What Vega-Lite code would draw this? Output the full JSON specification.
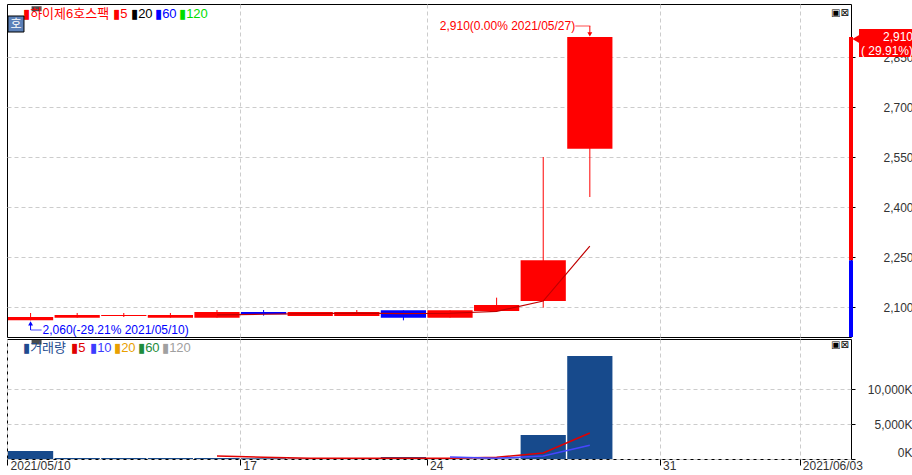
{
 "$schema": "https://vega.github.io/schema/vega-lite/v6.json",
 "background": "#ffffff",
 "padding": {"left": 5, "top": 3, "right": 0, "bottom": 0},
 "spacing": 2,
 "bounds": "flush",
 "config": {
  "font": "Liberation Sans, Noto Sans CJK KR, DejaVu Sans, sans-serif",
  "view": {"stroke": "#000000", "strokeWidth": 1},
  "axis": {"labelFont": "Liberation Sans", "labelFontSize": 12, "labelColor": "#333333", "gridColor": "#cccccc", "gridDash": [4, 3], "gridWidth": 1, "domain": false, "tickColor": "#000000"},
  "text": {"fontSize": 12}
 },
 "datasets": {
  "ohlc": [
   {"date": "2021/05/10", "open": 2060, "high": 2082, "low": 2060, "close": 2070, "vol": 1140},
   {"date": "2021/05/11", "open": 2068, "high": 2082, "low": 2068, "close": 2076, "vol": 150},
   {"date": "2021/05/12", "open": 2073, "high": 2082, "low": 2070, "close": 2076, "vol": 150},
   {"date": "2021/05/13", "open": 2068, "high": 2082, "low": 2068, "close": 2076, "vol": 150},
   {"date": "2021/05/14", "open": 2068, "high": 2091, "low": 2068, "close": 2085, "ma5": 2076.6, "vol": 130, "vma5": 420},
   {"date": "2021/05/17", "open": 2085, "high": 2091, "low": 2074, "close": 2078, "ma5": 2078.2, "vol": 100, "vma5": 240},
   {"date": "2021/05/18", "open": 2073, "high": 2085, "low": 2073, "close": 2085, "ma5": 2080.0, "vol": 60, "vma5": 110},
   {"date": "2021/05/20", "open": 2073, "high": 2091, "low": 2073, "close": 2085, "ma5": 2081.8, "vol": 60, "vma5": 100},
   {"date": "2021/05/21", "open": 2090, "high": 2090, "low": 2060, "close": 2068, "ma5": 2080.2, "vol": 300, "vma5": 120},
   {"date": "2021/05/24", "open": 2068, "high": 2090, "low": 2068, "close": 2090, "ma5": 2081.2, "vol": 60, "vma5": 100, "vma10": 285},
   {"date": "2021/05/25", "open": 2088, "high": 2128, "low": 2088, "close": 2106, "ma5": 2086.8, "vol": 70, "vma5": 250, "vma10": 110},
   {"date": "2021/05/26", "open": 2118, "high": 2550, "low": 2098, "close": 2240, "ma5": 2117.8, "vol": 3430, "vma5": 857, "vma10": 430},
   {"date": "2021/05/27", "open": 2575, "high": 2910, "low": 2430, "close": 2910, "ma5": 2282.8, "vol": 14710, "vma5": 3714, "vma10": 1950}
  ]
 },
 "vconcat": [
  {
   "width": 844,
   "height": 333,
   "layer": [
    {
     "data": {"name": "ohlc"},
     "mark": {"type": "rule", "strokeWidth": 1},
     "encoding": {
      "x": {"field": "date", "type": "ordinal", "bandPosition": 0.5,
            "scale": {"type": "band", "domain": ["2021/05/10","2021/05/11","2021/05/12","2021/05/13","2021/05/14","2021/05/17","2021/05/18","2021/05/20","2021/05/21","2021/05/24","2021/05/25","2021/05/26","2021/05/27","2021/05/28","2021/05/31","2021/06/01","2021/06/02","2021/06/03"], "paddingInner": 0.03, "paddingOuter": 0.07, "align": 0.15},
            "axis": {"labels": false, "ticks": false, "domain": false, "grid": true, "bandPosition": 0, "values": ["2021/05/17","2021/05/24","2021/05/31","2021/06/03"], "title": null}},
      "y": {"field": "low", "type": "quantitative", "scale": {"domain": [2010, 3009], "nice": false, "zero": false},
            "axis": {"orient": "right", "values": [2100, 2250, 2400, 2550, 2700, 2850], "labelExpr": "format(datum.value, ',')", "tickSize": 4, "labelAlign": "right", "labelBaseline": "middle", "labelPadding": 58, "grid": true, "title": null}},
      "y2": {"field": "high"},
      "color": {"condition": {"test": "datum.close >= datum.open", "value": "#ff0000"}, "value": "#0000ff"}
     }
    },
    {
     "data": {"name": "ohlc"},
     "mark": {"type": "bar"},
     "encoding": {
      "x": {"field": "date", "type": "ordinal",
            "axis": {"labels": false, "ticks": false, "domain": false, "grid": true, "bandPosition": 0, "values": ["2021/05/17","2021/05/24","2021/05/31","2021/06/03"], "title": null}},
      "y": {"field": "open", "type": "quantitative",
            "axis": {"orient": "right", "values": [2100, 2250, 2400, 2550, 2700, 2850], "labelExpr": "format(datum.value, ',')", "tickSize": 4, "labelAlign": "right", "labelBaseline": "middle", "labelPadding": 58, "grid": true, "title": null}},
      "y2": {"field": "close"},
      "color": {"condition": {"test": "datum.close >= datum.open", "value": "#ff0000"}, "value": "#0000ff"}
     }
    },
    {
     "data": {"name": "ohlc"},
     "transform": [{"filter": "isValid(datum.ma5)"}],
     "mark": {"type": "line", "color": "#c00000", "strokeWidth": 1.2},
     "encoding": {
      "x": {"field": "date", "type": "ordinal", "bandPosition": 0.5,
            "axis": {"labels": false, "ticks": false, "domain": false, "grid": true, "bandPosition": 0, "values": ["2021/05/17","2021/05/24","2021/05/31","2021/06/03"], "title": null}},
      "y": {"field": "ma5", "type": "quantitative",
            "axis": {"orient": "right", "values": [2100, 2250, 2400, 2550, 2700, 2850], "labelExpr": "format(datum.value, ',')", "tickSize": 4, "labelAlign": "right", "labelBaseline": "middle", "labelPadding": 58, "grid": true, "title": null}}
     }
    },
    {
     "data": {"values": [{"t": "2,910(0.00% 2021/05/27)", "x": "2021/05/27", "y": 2943}]},
     "mark": {"type": "text", "align": "right", "baseline": "middle", "dx": 8, "color": "#ff0000"},
     "encoding": {
      "x": {"field": "x", "type": "ordinal", "bandPosition": 0,
            "axis": {"labels": false, "ticks": false, "domain": false, "grid": true, "bandPosition": 0, "values": ["2021/05/17","2021/05/24","2021/05/31","2021/06/03"], "title": null}},
      "y": {"field": "y", "type": "quantitative",
            "axis": {"orient": "right", "values": [2100, 2250, 2400, 2550, 2700, 2850], "labelExpr": "format(datum.value, ',')", "tickSize": 4, "labelAlign": "right", "labelBaseline": "middle", "labelPadding": 58, "grid": true, "title": null}},
      "text": {"field": "t"}
     }
    },
    {
     "data": {"values": [{"x": "2021/05/27", "y": 2943}]},
     "mark": {"type": "tick", "orient": "horizontal", "size": 15, "thickness": 1, "color": "#ff0000", "xOffset": -7},
     "encoding": {
      "x": {"field": "x", "type": "ordinal", "bandPosition": 0.5,
            "axis": {"labels": false, "ticks": false, "domain": false, "grid": true, "bandPosition": 0, "values": ["2021/05/17","2021/05/24","2021/05/31","2021/06/03"], "title": null}},
      "y": {"field": "y", "type": "quantitative",
            "axis": {"orient": "right", "values": [2100, 2250, 2400, 2550, 2700, 2850], "labelExpr": "format(datum.value, ',')", "tickSize": 4, "labelAlign": "right", "labelBaseline": "middle", "labelPadding": 58, "grid": true, "title": null}}
     }
    },
    {
     "data": {"values": [{"x": "2021/05/27", "y": 2943, "y2": 2920}]},
     "mark": {"type": "rule", "color": "#ff0000", "strokeWidth": 1},
     "encoding": {
      "x": {"field": "x", "type": "ordinal", "bandPosition": 0.5,
            "axis": {"labels": false, "ticks": false, "domain": false, "grid": true, "bandPosition": 0, "values": ["2021/05/17","2021/05/24","2021/05/31","2021/06/03"], "title": null}},
      "y": {"field": "y", "type": "quantitative",
            "axis": {"orient": "right", "values": [2100, 2250, 2400, 2550, 2700, 2850], "labelExpr": "format(datum.value, ',')", "tickSize": 4, "labelAlign": "right", "labelBaseline": "middle", "labelPadding": 58, "grid": true, "title": null}},
      "y2": {"field": "y2"}
     }
    },
    {
     "data": {"values": [{"x": "2021/05/27", "y": 2918}]},
     "mark": {"type": "point", "shape": "triangle-down", "filled": true, "size": 24, "color": "#ff0000", "opacity": 1},
     "encoding": {
      "x": {"field": "x", "type": "ordinal", "bandPosition": 0.5,
            "axis": {"labels": false, "ticks": false, "domain": false, "grid": true, "bandPosition": 0, "values": ["2021/05/17","2021/05/24","2021/05/31","2021/06/03"], "title": null}},
      "y": {"field": "y", "type": "quantitative",
            "axis": {"orient": "right", "values": [2100, 2250, 2400, 2550, 2700, 2850], "labelExpr": "format(datum.value, ',')", "tickSize": 4, "labelAlign": "right", "labelBaseline": "middle", "labelPadding": 58, "grid": true, "title": null}}
     }
    },
    {
     "data": {"values": [{"x": "2021/05/10", "y": 2050, "y2": 2031}]},
     "mark": {"type": "rule", "color": "#0000ff", "strokeWidth": 1},
     "encoding": {
      "x": {"field": "x", "type": "ordinal", "bandPosition": 0.5,
            "axis": {"labels": false, "ticks": false, "domain": false, "grid": true, "bandPosition": 0, "values": ["2021/05/17","2021/05/24","2021/05/31","2021/06/03"], "title": null}},
      "y": {"field": "y", "type": "quantitative",
            "axis": {"orient": "right", "values": [2100, 2250, 2400, 2550, 2700, 2850], "labelExpr": "format(datum.value, ',')", "tickSize": 4, "labelAlign": "right", "labelBaseline": "middle", "labelPadding": 58, "grid": true, "title": null}},
      "y2": {"field": "y2"}
     }
    },
    {
     "data": {"values": [{"x": "2021/05/10", "y": 2051}]},
     "mark": {"type": "point", "shape": "triangle-up", "filled": true, "size": 24, "color": "#0000ff", "opacity": 1},
     "encoding": {
      "x": {"field": "x", "type": "ordinal", "bandPosition": 0.5,
            "axis": {"labels": false, "ticks": false, "domain": false, "grid": true, "bandPosition": 0, "values": ["2021/05/17","2021/05/24","2021/05/31","2021/06/03"], "title": null}},
      "y": {"field": "y", "type": "quantitative",
            "axis": {"orient": "right", "values": [2100, 2250, 2400, 2550, 2700, 2850], "labelExpr": "format(datum.value, ',')", "tickSize": 4, "labelAlign": "right", "labelBaseline": "middle", "labelPadding": 58, "grid": true, "title": null}}
     }
    },
    {
     "data": {"values": [{"x": "2021/05/10", "y": 2031}]},
     "mark": {"type": "tick", "orient": "horizontal", "size": 11, "thickness": 1, "color": "#0000ff", "xOffset": 5.5},
     "encoding": {
      "x": {"field": "x", "type": "ordinal", "bandPosition": 0.5,
            "axis": {"labels": false, "ticks": false, "domain": false, "grid": true, "bandPosition": 0, "values": ["2021/05/17","2021/05/24","2021/05/31","2021/06/03"], "title": null}},
      "y": {"field": "y", "type": "quantitative",
            "axis": {"orient": "right", "values": [2100, 2250, 2400, 2550, 2700, 2850], "labelExpr": "format(datum.value, ',')", "tickSize": 4, "labelAlign": "right", "labelBaseline": "middle", "labelPadding": 58, "grid": true, "title": null}}
     }
    },
    {
     "data": {"values": [{"t": "2,060(-29.21% 2021/05/10)", "x": "2021/05/10", "y": 2031}]},
     "mark": {"type": "text", "align": "left", "baseline": "middle", "dx": 12, "color": "#0000ff"},
     "encoding": {
      "x": {"field": "x", "type": "ordinal", "bandPosition": 0.5,
            "axis": {"labels": false, "ticks": false, "domain": false, "grid": true, "bandPosition": 0, "values": ["2021/05/17","2021/05/24","2021/05/31","2021/06/03"], "title": null}},
      "y": {"field": "y", "type": "quantitative",
            "axis": {"orient": "right", "values": [2100, 2250, 2400, 2550, 2700, 2850], "labelExpr": "format(datum.value, ',')", "tickSize": 4, "labelAlign": "right", "labelBaseline": "middle", "labelPadding": 58, "grid": true, "title": null}},
      "text": {"field": "t"}
     }
    },
    {
     "data": {"values": [{"y": 2910, "y2": 2240}]},
     "mark": {"type": "rule", "color": "#ff0000", "strokeWidth": 4},
     "encoding": {
      "x": {"value": "width"},
      "y": {"field": "y", "type": "quantitative",
            "axis": {"orient": "right", "values": [2100, 2250, 2400, 2550, 2700, 2850], "labelExpr": "format(datum.value, ',')", "tickSize": 4, "labelAlign": "right", "labelBaseline": "middle", "labelPadding": 58, "grid": true, "title": null}},
      "y2": {"field": "y2"}
     }
    },
    {
     "data": {"values": [{"y": 2240, "y2": 2010}]},
     "mark": {"type": "rule", "color": "#0000ff", "strokeWidth": 4},
     "encoding": {
      "x": {"value": "width"},
      "y": {"field": "y", "type": "quantitative",
            "axis": {"orient": "right", "values": [2100, 2250, 2400, 2550, 2700, 2850], "labelExpr": "format(datum.value, ',')", "tickSize": 4, "labelAlign": "right", "labelBaseline": "middle", "labelPadding": 58, "grid": true, "title": null}},
      "y2": {"field": "y2"}
     }
    },
    {
     "data": {"values": [{"y": 2934, "y2": 2850}]},
     "mark": {"type": "rect", "color": "#ff0000", "xOffset": 8, "x2Offset": 63},
     "encoding": {
      "x": {"value": "width"},
      "x2": {"value": "width"},
      "y": {"field": "y", "type": "quantitative",
            "axis": {"orient": "right", "values": [2100, 2250, 2400, 2550, 2700, 2850], "labelExpr": "format(datum.value, ',')", "tickSize": 4, "labelAlign": "right", "labelBaseline": "middle", "labelPadding": 58, "grid": true, "title": null}},
      "y2": {"field": "y2"}
     }
    },
    {
     "data": {"values": [{"y": 2904}]},
     "mark": {"type": "point", "shape": "triangle-left", "filled": true, "size": 70, "color": "#ff0000", "opacity": 1, "xOffset": 5},
     "encoding": {
      "x": {"value": "width"},
      "y": {"field": "y", "type": "quantitative",
            "axis": {"orient": "right", "values": [2100, 2250, 2400, 2550, 2700, 2850], "labelExpr": "format(datum.value, ',')", "tickSize": 4, "labelAlign": "right", "labelBaseline": "middle", "labelPadding": 58, "grid": true, "title": null}}
     }
    },
    {
     "data": {"values": [{"t": "2,910", "y": 2911}, {"t": "( 29.91%)", "y": 2869}]},
     "mark": {"type": "text", "align": "right", "baseline": "middle", "dx": 62, "color": "#ffffff"},
     "encoding": {
      "x": {"value": "width"},
      "y": {"field": "y", "type": "quantitative",
            "axis": {"orient": "right", "values": [2100, 2250, 2400, 2550, 2700, 2850], "labelExpr": "format(datum.value, ',')", "tickSize": 4, "labelAlign": "right", "labelBaseline": "middle", "labelPadding": 58, "grid": true, "title": null}},
      "text": {"field": "t"}
     }
    },
    {
     "data": {"values": [{"x": "2021/05/10", "y": 2995}]},
     "mark": {"type": "tick", "orient": "horizontal", "size": 10, "thickness": 5, "color": "#000000", "xOffset": 6},
     "encoding": {
      "x": {"field": "x", "type": "ordinal", "bandPosition": 0,
            "axis": {"labels": false, "ticks": false, "domain": false, "grid": true, "bandPosition": 0, "values": ["2021/05/17","2021/05/24","2021/05/31","2021/06/03"], "title": null}},
      "y": {"field": "y", "type": "quantitative",
            "axis": {"orient": "right", "values": [2100, 2250, 2400, 2550, 2700, 2850], "labelExpr": "format(datum.value, ',')", "tickSize": 4, "labelAlign": "right", "labelBaseline": "middle", "labelPadding": 58, "grid": true, "title": null}}
     }
    },
    {
     "data": {"values": [{"t": "▮하이제6호스팩", "x": "2021/05/10", "y": 2979}]},
     "mark": {"type": "text", "align": "left", "baseline": "middle", "dx": 15, "fontSize": 13, "color": "#ff0000"},
     "encoding": {
      "x": {"field": "x", "type": "ordinal", "bandPosition": 0,
            "axis": {"labels": false, "ticks": false, "domain": false, "grid": true, "bandPosition": 0, "values": ["2021/05/17","2021/05/24","2021/05/31","2021/06/03"], "title": null}},
      "y": {"field": "y", "type": "quantitative",
            "axis": {"orient": "right", "values": [2100, 2250, 2400, 2550, 2700, 2850], "labelExpr": "format(datum.value, ',')", "tickSize": 4, "labelAlign": "right", "labelBaseline": "middle", "labelPadding": 58, "grid": true, "title": null}},
      "text": {"field": "t"}
     }
    },
    {
     "data": {"values": [{"t": "▮5", "x": "2021/05/10", "y": 2979}]},
     "mark": {"type": "text", "align": "left", "baseline": "middle", "dx": 105, "fontSize": 13, "color": "#ff0000"},
     "encoding": {
      "x": {"field": "x", "type": "ordinal", "bandPosition": 0,
            "axis": {"labels": false, "ticks": false, "domain": false, "grid": true, "bandPosition": 0, "values": ["2021/05/17","2021/05/24","2021/05/31","2021/06/03"], "title": null}},
      "y": {"field": "y", "type": "quantitative",
            "axis": {"orient": "right", "values": [2100, 2250, 2400, 2550, 2700, 2850], "labelExpr": "format(datum.value, ',')", "tickSize": 4, "labelAlign": "right", "labelBaseline": "middle", "labelPadding": 58, "grid": true, "title": null}},
      "text": {"field": "t"}
     }
    },
    {
     "data": {"values": [{"t": "▮20", "x": "2021/05/10", "y": 2979}]},
     "mark": {"type": "text", "align": "left", "baseline": "middle", "dx": 123, "fontSize": 13, "color": "#000000"},
     "encoding": {
      "x": {"field": "x", "type": "ordinal", "bandPosition": 0,
            "axis": {"labels": false, "ticks": false, "domain": false, "grid": true, "bandPosition": 0, "values": ["2021/05/17","2021/05/24","2021/05/31","2021/06/03"], "title": null}},
      "y": {"field": "y", "type": "quantitative",
            "axis": {"orient": "right", "values": [2100, 2250, 2400, 2550, 2700, 2850], "labelExpr": "format(datum.value, ',')", "tickSize": 4, "labelAlign": "right", "labelBaseline": "middle", "labelPadding": 58, "grid": true, "title": null}},
      "text": {"field": "t"}
     }
    },
    {
     "data": {"values": [{"t": "▮60", "x": "2021/05/10", "y": 2979}]},
     "mark": {"type": "text", "align": "left", "baseline": "middle", "dx": 147, "fontSize": 13, "color": "#0000ff"},
     "encoding": {
      "x": {"field": "x", "type": "ordinal", "bandPosition": 0,
            "axis": {"labels": false, "ticks": false, "domain": false, "grid": true, "bandPosition": 0, "values": ["2021/05/17","2021/05/24","2021/05/31","2021/06/03"], "title": null}},
      "y": {"field": "y", "type": "quantitative",
            "axis": {"orient": "right", "values": [2100, 2250, 2400, 2550, 2700, 2850], "labelExpr": "format(datum.value, ',')", "tickSize": 4, "labelAlign": "right", "labelBaseline": "middle", "labelPadding": 58, "grid": true, "title": null}},
      "text": {"field": "t"}
     }
    },
    {
     "data": {"values": [{"t": "▮120", "x": "2021/05/10", "y": 2979}]},
     "mark": {"type": "text", "align": "left", "baseline": "middle", "dx": 171, "fontSize": 13, "color": "#00dd00"},
     "encoding": {
      "x": {"field": "x", "type": "ordinal", "bandPosition": 0,
            "axis": {"labels": false, "ticks": false, "domain": false, "grid": true, "bandPosition": 0, "values": ["2021/05/17","2021/05/24","2021/05/31","2021/06/03"], "title": null}},
      "y": {"field": "y", "type": "quantitative",
            "axis": {"orient": "right", "values": [2100, 2250, 2400, 2550, 2700, 2850], "labelExpr": "format(datum.value, ',')", "tickSize": 4, "labelAlign": "right", "labelBaseline": "middle", "labelPadding": 58, "grid": true, "title": null}},
      "text": {"field": "t"}
     }
    },
    {
     "data": {"values": [{"x": "2021/05/10", "y": 2949}]},
     "mark": {"type": "point", "shape": "square", "filled": true, "size": 256, "color": "#5b80b8", "opacity": 1, "stroke": "#000000", "strokeWidth": 1, "xOffset": 8},
     "encoding": {
      "x": {"field": "x", "type": "ordinal", "bandPosition": 0,
            "axis": {"labels": false, "ticks": false, "domain": false, "grid": true, "bandPosition": 0, "values": ["2021/05/17","2021/05/24","2021/05/31","2021/06/03"], "title": null}},
      "y": {"field": "y", "type": "quantitative",
            "axis": {"orient": "right", "values": [2100, 2250, 2400, 2550, 2700, 2850], "labelExpr": "format(datum.value, ',')", "tickSize": 4, "labelAlign": "right", "labelBaseline": "middle", "labelPadding": 58, "grid": true, "title": null}}
     }
    },
    {
     "data": {"values": [{"t": "호", "x": "2021/05/10", "y": 2949}]},
     "mark": {"type": "text", "align": "center", "baseline": "middle", "dx": 8, "fontSize": 12, "color": "#ffffff", "font": "Noto Sans CJK KR"},
     "encoding": {
      "x": {"field": "x", "type": "ordinal", "bandPosition": 0,
            "axis": {"labels": false, "ticks": false, "domain": false, "grid": true, "bandPosition": 0, "values": ["2021/05/17","2021/05/24","2021/05/31","2021/06/03"], "title": null}},
      "y": {"field": "y", "type": "quantitative",
            "axis": {"orient": "right", "values": [2100, 2250, 2400, 2550, 2700, 2850], "labelExpr": "format(datum.value, ',')", "tickSize": 4, "labelAlign": "right", "labelBaseline": "middle", "labelPadding": 58, "grid": true, "title": null}},
      "text": {"field": "t"}
     }
    },
    {
     "data": {"values": [{"t": "▣⊠", "y": 2982}]},
     "mark": {"type": "text", "align": "left", "baseline": "middle", "dx": -20, "fontSize": 10, "color": "#000000", "font": "DejaVu Sans"},
     "encoding": {
      "x": {"value": "width"},
      "y": {"field": "y", "type": "quantitative",
            "axis": {"orient": "right", "values": [2100, 2250, 2400, 2550, 2700, 2850], "labelExpr": "format(datum.value, ',')", "tickSize": 4, "labelAlign": "right", "labelBaseline": "middle", "labelPadding": 58, "grid": true, "title": null}},
      "text": {"field": "t"}
     }
    }
   ]
  },
  {
   "width": 844,
   "height": 120,
   "layer": [
    {
     "data": {"name": "ohlc"},
     "mark": {"type": "bar", "color": "#174a8c"},
     "encoding": {
      "x": {"field": "date", "type": "ordinal",
            "scale": {"type": "band", "domain": ["2021/05/10","2021/05/11","2021/05/12","2021/05/13","2021/05/14","2021/05/17","2021/05/18","2021/05/20","2021/05/21","2021/05/24","2021/05/25","2021/05/26","2021/05/27","2021/05/28","2021/05/31","2021/06/01","2021/06/02","2021/06/03"], "paddingInner": 0.03, "paddingOuter": 0.07, "align": 0.15},
            "axis": {"values": ["2021/05/10","2021/05/17","2021/05/24","2021/05/31","2021/06/03"], "bandPosition": 0, "labelAlign": "left", "labelBaseline": "top", "labelOffset": -20, "labelPadding": -5, "tickSize": 6, "labelAngle": 0, "labelOverlap": false, "grid": true, "title": null,
                     "labelExpr": "datum.value == '2021/05/10' || datum.value == '2021/06/03' ? datum.value : slice(datum.value, 8)"}},
      "y": {"field": "vol", "type": "quantitative", "scale": {"domain": [0, 17143], "nice": false, "zero": false},
            "axis": {"orient": "right", "values": [0, 5000, 10000], "labelExpr": "format(datum.value, ',') + 'K'", "tickSize": 4, "labelAlign": "right", "labelPadding": 57, "labelFlush": true, "grid": true, "title": null}}
     }
    },
    {
     "data": {"name": "ohlc"},
     "transform": [{"filter": "isValid(datum.vma5)"}],
     "mark": {"type": "line", "color": "#e00000", "strokeWidth": 1.5},
     "encoding": {
      "x": {"field": "date", "type": "ordinal", "bandPosition": 0.5,
            "axis": {"values": ["2021/05/10","2021/05/17","2021/05/24","2021/05/31","2021/06/03"], "bandPosition": 0, "labelAlign": "left", "labelBaseline": "top", "labelOffset": -20, "labelPadding": -5, "tickSize": 6, "labelAngle": 0, "labelOverlap": false, "grid": true, "title": null,
                     "labelExpr": "datum.value == '2021/05/10' || datum.value == '2021/06/03' ? datum.value : slice(datum.value, 8)"}},
      "y": {"field": "vma5", "type": "quantitative",
            "axis": {"orient": "right", "values": [0, 5000, 10000], "labelExpr": "format(datum.value, ',') + 'K'", "tickSize": 4, "labelAlign": "right", "labelPadding": 57, "labelFlush": true, "grid": true, "title": null}}
     }
    },
    {
     "data": {"name": "ohlc"},
     "transform": [{"filter": "isValid(datum.vma10)"}],
     "mark": {"type": "line", "color": "#4646ff", "strokeWidth": 1.5},
     "encoding": {
      "x": {"field": "date", "type": "ordinal", "bandPosition": 0.5,
            "axis": {"values": ["2021/05/10","2021/05/17","2021/05/24","2021/05/31","2021/06/03"], "bandPosition": 0, "labelAlign": "left", "labelBaseline": "top", "labelOffset": -20, "labelPadding": -5, "tickSize": 6, "labelAngle": 0, "labelOverlap": false, "grid": true, "title": null,
                     "labelExpr": "datum.value == '2021/05/10' || datum.value == '2021/06/03' ? datum.value : slice(datum.value, 8)"}},
      "y": {"field": "vma10", "type": "quantitative",
            "axis": {"orient": "right", "values": [0, 5000, 10000], "labelExpr": "format(datum.value, ',') + 'K'", "tickSize": 4, "labelAlign": "right", "labelPadding": 57, "labelFlush": true, "grid": true, "title": null}}
     }
    },
    {
     "data": {"values": [{"x": "2021/05/10", "y": 16714}]},
     "mark": {"type": "tick", "orient": "horizontal", "size": 10, "thickness": 5, "color": "#000000", "xOffset": 6},
     "encoding": {
      "x": {"field": "x", "type": "ordinal", "bandPosition": 0,
            "axis": {"values": ["2021/05/10","2021/05/17","2021/05/24","2021/05/31","2021/06/03"], "bandPosition": 0, "labelAlign": "left", "labelBaseline": "top", "labelOffset": -20, "labelPadding": -5, "tickSize": 6, "labelAngle": 0, "labelOverlap": false, "grid": true, "title": null,
                     "labelExpr": "datum.value == '2021/05/10' || datum.value == '2021/06/03' ? datum.value : slice(datum.value, 8)"}},
      "y": {"field": "y", "type": "quantitative",
            "axis": {"orient": "right", "values": [0, 5000, 10000], "labelExpr": "format(datum.value, ',') + 'K'", "tickSize": 4, "labelAlign": "right", "labelPadding": 57, "labelFlush": true, "grid": true, "title": null}}
     }
    },
    {
     "data": {"values": [{"t": "▮거래량", "x": "2021/05/10", "y": 15857}]},
     "mark": {"type": "text", "align": "left", "baseline": "middle", "dx": 15, "fontSize": 13, "color": "#1e4b8f"},
     "encoding": {
      "x": {"field": "x", "type": "ordinal", "bandPosition": 0,
            "axis": {"values": ["2021/05/10","2021/05/17","2021/05/24","2021/05/31","2021/06/03"], "bandPosition": 0, "labelAlign": "left", "labelBaseline": "top", "labelOffset": -20, "labelPadding": -5, "tickSize": 6, "labelAngle": 0, "labelOverlap": false, "grid": true, "title": null,
                     "labelExpr": "datum.value == '2021/05/10' || datum.value == '2021/06/03' ? datum.value : slice(datum.value, 8)"}},
      "y": {"field": "y", "type": "quantitative",
            "axis": {"orient": "right", "values": [0, 5000, 10000], "labelExpr": "format(datum.value, ',') + 'K'", "tickSize": 4, "labelAlign": "right", "labelPadding": 57, "labelFlush": true, "grid": true, "title": null}},
      "text": {"field": "t"}
     }
    },
    {
     "data": {"values": [{"t": "▮5", "x": "2021/05/10", "y": 15857}]},
     "mark": {"type": "text", "align": "left", "baseline": "middle", "dx": 63, "fontSize": 13, "color": "#e00000"},
     "encoding": {
      "x": {"field": "x", "type": "ordinal", "bandPosition": 0,
            "axis": {"values": ["2021/05/10","2021/05/17","2021/05/24","2021/05/31","2021/06/03"], "bandPosition": 0, "labelAlign": "left", "labelBaseline": "top", "labelOffset": -20, "labelPadding": -5, "tickSize": 6, "labelAngle": 0, "labelOverlap": false, "grid": true, "title": null,
                     "labelExpr": "datum.value == '2021/05/10' || datum.value == '2021/06/03' ? datum.value : slice(datum.value, 8)"}},
      "y": {"field": "y", "type": "quantitative",
            "axis": {"orient": "right", "values": [0, 5000, 10000], "labelExpr": "format(datum.value, ',') + 'K'", "tickSize": 4, "labelAlign": "right", "labelPadding": 57, "labelFlush": true, "grid": true, "title": null}},
      "text": {"field": "t"}
     }
    },
    {
     "data": {"values": [{"t": "▮10", "x": "2021/05/10", "y": 15857}]},
     "mark": {"type": "text", "align": "left", "baseline": "middle", "dx": 82, "fontSize": 13, "color": "#3c3cff"},
     "encoding": {
      "x": {"field": "x", "type": "ordinal", "bandPosition": 0,
            "axis": {"values": ["2021/05/10","2021/05/17","2021/05/24","2021/05/31","2021/06/03"], "bandPosition": 0, "labelAlign": "left", "labelBaseline": "top", "labelOffset": -20, "labelPadding": -5, "tickSize": 6, "labelAngle": 0, "labelOverlap": false, "grid": true, "title": null,
                     "labelExpr": "datum.value == '2021/05/10' || datum.value == '2021/06/03' ? datum.value : slice(datum.value, 8)"}},
      "y": {"field": "y", "type": "quantitative",
            "axis": {"orient": "right", "values": [0, 5000, 10000], "labelExpr": "format(datum.value, ',') + 'K'", "tickSize": 4, "labelAlign": "right", "labelPadding": 57, "labelFlush": true, "grid": true, "title": null}},
      "text": {"field": "t"}
     }
    },
    {
     "data": {"values": [{"t": "▮20", "x": "2021/05/10", "y": 15857}]},
     "mark": {"type": "text", "align": "left", "baseline": "middle", "dx": 106, "fontSize": 13, "color": "#e8a000"},
     "encoding": {
      "x": {"field": "x", "type": "ordinal", "bandPosition": 0,
            "axis": {"values": ["2021/05/10","2021/05/17","2021/05/24","2021/05/31","2021/06/03"], "bandPosition": 0, "labelAlign": "left", "labelBaseline": "top", "labelOffset": -20, "labelPadding": -5, "tickSize": 6, "labelAngle": 0, "labelOverlap": false, "grid": true, "title": null,
                     "labelExpr": "datum.value == '2021/05/10' || datum.value == '2021/06/03' ? datum.value : slice(datum.value, 8)"}},
      "y": {"field": "y", "type": "quantitative",
            "axis": {"orient": "right", "values": [0, 5000, 10000], "labelExpr": "format(datum.value, ',') + 'K'", "tickSize": 4, "labelAlign": "right", "labelPadding": 57, "labelFlush": true, "grid": true, "title": null}},
      "text": {"field": "t"}
     }
    },
    {
     "data": {"values": [{"t": "▮60", "x": "2021/05/10", "y": 15857}]},
     "mark": {"type": "text", "align": "left", "baseline": "middle", "dx": 130, "fontSize": 13, "color": "#1e8c3c"},
     "encoding": {
      "x": {"field": "x", "type": "ordinal", "bandPosition": 0,
            "axis": {"values": ["2021/05/10","2021/05/17","2021/05/24","2021/05/31","2021/06/03"], "bandPosition": 0, "labelAlign": "left", "labelBaseline": "top", "labelOffset": -20, "labelPadding": -5, "tickSize": 6, "labelAngle": 0, "labelOverlap": false, "grid": true, "title": null,
                     "labelExpr": "datum.value == '2021/05/10' || datum.value == '2021/06/03' ? datum.value : slice(datum.value, 8)"}},
      "y": {"field": "y", "type": "quantitative",
            "axis": {"orient": "right", "values": [0, 5000, 10000], "labelExpr": "format(datum.value, ',') + 'K'", "tickSize": 4, "labelAlign": "right", "labelPadding": 57, "labelFlush": true, "grid": true, "title": null}},
      "text": {"field": "t"}
     }
    },
    {
     "data": {"values": [{"t": "▮120", "x": "2021/05/10", "y": 15857}]},
     "mark": {"type": "text", "align": "left", "baseline": "middle", "dx": 154, "fontSize": 13, "color": "#a0a0a0"},
     "encoding": {
      "x": {"field": "x", "type": "ordinal", "bandPosition": 0,
            "axis": {"values": ["2021/05/10","2021/05/17","2021/05/24","2021/05/31","2021/06/03"], "bandPosition": 0, "labelAlign": "left", "labelBaseline": "top", "labelOffset": -20, "labelPadding": -5, "tickSize": 6, "labelAngle": 0, "labelOverlap": false, "grid": true, "title": null,
                     "labelExpr": "datum.value == '2021/05/10' || datum.value == '2021/06/03' ? datum.value : slice(datum.value, 8)"}},
      "y": {"field": "y", "type": "quantitative",
            "axis": {"orient": "right", "values": [0, 5000, 10000], "labelExpr": "format(datum.value, ',') + 'K'", "tickSize": 4, "labelAlign": "right", "labelPadding": 57, "labelFlush": true, "grid": true, "title": null}},
      "text": {"field": "t"}
     }
    },
    {
     "data": {"values": [{"t": "▣⊠", "y": 16286}]},
     "mark": {"type": "text", "align": "left", "baseline": "middle", "dx": -20, "fontSize": 10, "color": "#000000", "font": "DejaVu Sans"},
     "encoding": {
      "x": {"value": "width"},
      "y": {"field": "y", "type": "quantitative",
            "axis": {"orient": "right", "values": [0, 5000, 10000], "labelExpr": "format(datum.value, ',') + 'K'", "tickSize": 4, "labelAlign": "right", "labelPadding": 57, "labelFlush": true, "grid": true, "title": null}},
      "text": {"field": "t"}
     }
    }
   ]
  }
 ]
}
